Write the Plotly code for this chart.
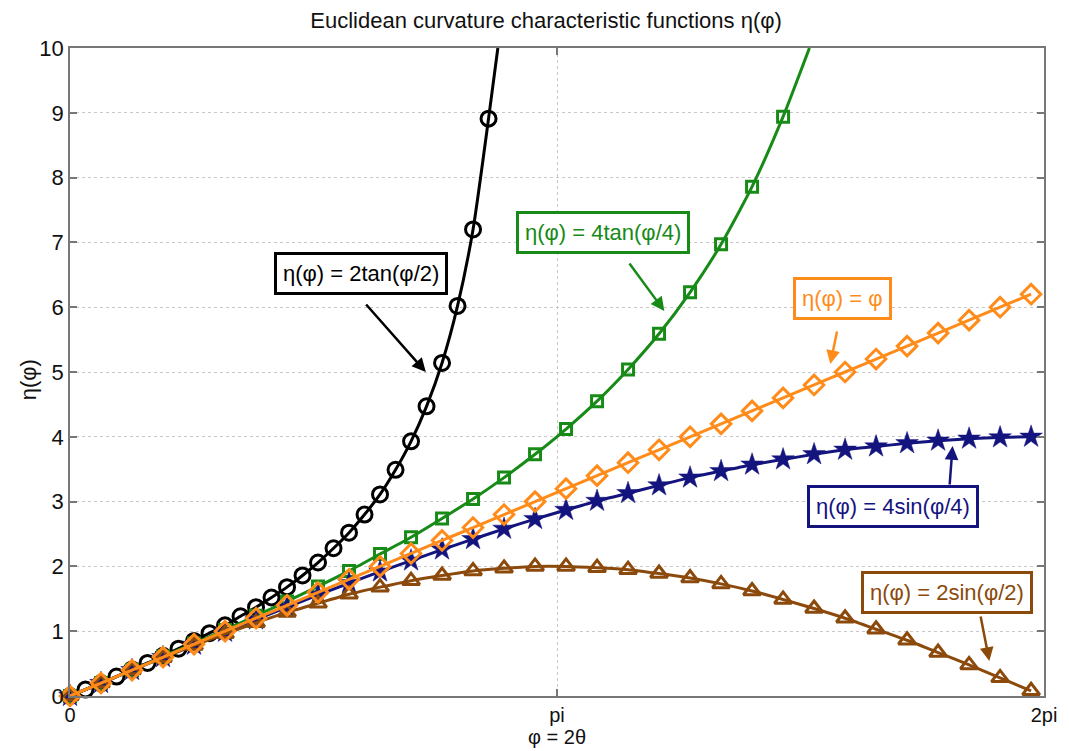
import plotly.graph_objects as go

# ---------------- data ----------------
phi_black = [0.0, 0.1, 0.2, 0.3, 0.4, 0.5, 0.6, 0.7, 0.8, 0.9, 1.0, 1.1, 1.2, 1.3,
             1.4, 1.5, 1.6, 1.7, 1.8, 1.9, 2.0, 2.1, 2.2, 2.3, 2.4, 2.5, 2.6, 2.7]
eta_2tan = [0.0, 0.10, 0.20, 0.30, 0.41, 0.51, 0.62, 0.73, 0.85, 0.97, 1.09, 1.23,
            1.37, 1.52, 1.68, 1.86, 2.06, 2.28, 2.52, 2.80, 3.11, 3.49, 3.93, 4.47,
            5.14, 6.02, 7.20, 8.91]
# where the curve leaves the top of the plot
exit_2tan = (2.76, 10.0)

phi_green = [0.0, 0.2, 0.4, 0.6, 0.8, 1.0, 1.2, 1.4, 1.6, 1.8, 2.0, 2.2, 2.4, 2.6,
             2.8, 3.0, 3.2, 3.4, 3.6, 3.8, 4.0, 4.2, 4.4, 4.6]
eta_4tan = [0.0, 0.20, 0.40, 0.61, 0.81, 1.02, 1.24, 1.46, 1.69, 1.93, 2.19, 2.45,
            2.74, 3.04, 3.37, 3.73, 4.12, 4.55, 5.04, 5.59, 6.23, 6.97, 7.86, 8.94]
exit_4tan = (4.77, 10.0)

phi_full = [0.0, 0.2, 0.4, 0.6, 0.8, 1.0, 1.2, 1.4, 1.6, 1.8, 2.0, 2.2, 2.4, 2.6,
            2.8, 3.0, 3.2, 3.4, 3.6, 3.8, 4.0, 4.2, 4.4, 4.6, 4.8, 5.0, 5.2, 5.4,
            5.6, 5.8, 6.0, 6.2]
eta_phi = [0.0, 0.2, 0.4, 0.6, 0.8, 1.0, 1.2, 1.4, 1.6, 1.8, 2.0, 2.2, 2.4, 2.6,
           2.8, 3.0, 3.2, 3.4, 3.6, 3.8, 4.0, 4.2, 4.4, 4.6, 4.8, 5.0, 5.2, 5.4,
           5.6, 5.8, 6.0, 6.2]
eta_4sin = [0.0, 0.20, 0.40, 0.60, 0.79, 0.99, 1.18, 1.37, 1.56, 1.74, 1.92, 2.09,
            2.26, 2.42, 2.58, 2.73, 2.87, 3.01, 3.13, 3.25, 3.37, 3.47, 3.57, 3.65,
            3.73, 3.80, 3.85, 3.90, 3.94, 3.97, 3.99, 4.00]
eta_2sin = [0.0, 0.20, 0.40, 0.59, 0.78, 0.96, 1.13, 1.29, 1.43, 1.57, 1.68, 1.78,
            1.86, 1.93, 1.97, 2.00, 2.00, 1.98, 1.95, 1.89, 1.82, 1.73, 1.62, 1.49,
            1.35, 1.20, 1.03, 0.86, 0.67, 0.48, 0.28, 0.08]

x_tickvals = [0.0, 3.14159, 6.28319]
x_ticktext = ["0", "pi", "2pi"]
y_tickvals = [0, 1, 2, 3, 4, 5, 6, 7, 8, 9, 10]

C_BLACK = "#000000"
C_GREEN = "#178a17"
C_ORANGE = "#ff8c1a"
C_NAVY = "#14147f"
C_BROWN = "#8b4a0c"

FONT = "Liberation Sans, Arial, Helvetica, sans-serif"
FS = 22

fig = go.Figure()

def add_series(xs, ys, color, symbol, size, exit_pt=None, mlw=3):
    lx = list(xs)
    ly = list(ys)
    if exit_pt is not None:
        lx.append(exit_pt[0])
        ly.append(exit_pt[1])
    fig.add_trace(go.Scatter(x=lx, y=ly, mode="lines",
                             line=dict(color=color, width=3, shape="spline", smoothing=0.6),
                             showlegend=False, hoverinfo="skip"))
    fig.add_trace(go.Scatter(x=xs, y=ys, mode="markers", cliponaxis=False,
                             marker=dict(symbol=symbol, size=size, color=color,
                                         line=dict(color=color, width=mlw)),
                             showlegend=False))

add_series(phi_black, eta_2tan, C_BLACK, "circle-open", 15, exit_2tan)
add_series(phi_green, eta_4tan, C_GREEN, "square-open", 11, exit_4tan)
add_series(phi_full, eta_4sin, C_NAVY, "star", 17, mlw=0.5)
add_series(phi_full, eta_2sin, C_BROWN, "triangle-up-open", 15)
add_series(phi_full, eta_phi, C_ORANGE, "diamond-open", 15)

# plot area in pixels
L, R, T, B = 70, 1050, 48, 696

def px(xp):
    return (xp - L) / (R - L)

def py(yp):
    return (B - yp) / (B - T)

annotations = []
boxes = [
    ("η(φ) = 2tan(φ/2)", C_BLACK, 363, 273),
    ("η(φ) = 4tan(φ/4)", C_GREEN, 606, 232),
    ("η(φ) = φ", C_ORANGE, 847, 298),
    ("η(φ) = 4sin(φ/4)", C_NAVY, 898, 507),
    ("η(φ) = 2sin(φ/2)", C_BROWN, 952, 592),
]
for txt, col, cx, cy in boxes:
    annotations.append(dict(text=txt, x=px(cx), y=py(cy), xref="paper", yref="paper",
                            showarrow=False, font=dict(family=FONT, size=FS, color=col),
                            bgcolor="white", bordercolor=col, borderwidth=3, borderpad=6,
                            xanchor="center", yanchor="middle"))
arrows = [
    (C_BLACK, 367, 303, 428, 372),
    (C_GREEN, 632, 262, 668, 311),
    (C_ORANGE, 842, 330, 835, 364),
    (C_NAVY, 955, 486, 958, 446),
    (C_BROWN, 986, 615, 995, 661),
]
for col, tx, ty, hx, hy in arrows:
    annotations.append(dict(text="", x=px(hx), y=py(hy), xref="paper", yref="paper",
                            showarrow=True, ax=tx - hx, ay=ty - hy, arrowcolor=col,
                            arrowhead=2, arrowsize=1.1, arrowwidth=2.5, standoff=0))

annotations.append(dict(text="φ = 2θ", x=px(560), y=py(737), xref="paper", yref="paper",
                        showarrow=False, font=dict(family=FONT, size=20, color="#111"),
                        xanchor="center", yanchor="middle"))
annotations.append(dict(text="η(φ)", x=px(28), y=py(380), xref="paper", yref="paper",
                        showarrow=False, textangle=-90,
                        font=dict(family=FONT, size=FS, color="#111"),
                        xanchor="center", yanchor="middle"))

fig.update_layout(
    width=1069, height=751,
    margin=dict(l=L, r=1069 - R, t=T, b=751 - B),
    paper_bgcolor="white", plot_bgcolor="white",
    title=dict(text="Euclidean curvature characteristic functions η(φ)",
               x=px(549), xref="paper", y=1 - 20 / 751, yref="container",
               xanchor="center", yanchor="middle",
               font=dict(family=FONT, size=FS, color="#111")),
    annotations=annotations,
    font=dict(family=FONT, size=FS, color="#111"),
)
fig.update_xaxes(range=[0, 6.28319], tickvals=x_tickvals, ticktext=x_ticktext,
                 showline=True, mirror="ticks", linecolor="#777", linewidth=1.5,
                 ticks="inside", ticklen=7, tickcolor="#777", tickwidth=1.5,
                 showgrid=True, gridcolor="#c8c8c8", griddash="dot", gridwidth=1,
                 zeroline=False, tickfont=dict(family=FONT, size=20, color="#111"))
fig.update_yaxes(range=[0, 10], tickvals=y_tickvals,
                 showline=True, mirror="ticks", linecolor="#777", linewidth=1.5,
                 ticks="inside", ticklen=7, tickcolor="#777", tickwidth=1.5,
                 showgrid=True, gridcolor="#c8c8c8", griddash="dot", gridwidth=1,
                 zeroline=False, tickfont=dict(family=FONT, size=FS, color="#111"))

fig.write_html("out.html")
